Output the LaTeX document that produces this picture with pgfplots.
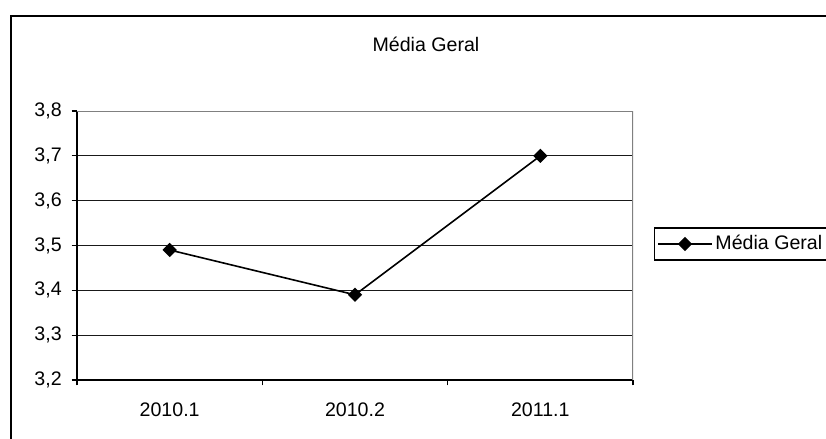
\documentclass[border=0pt]{standalone}
\usepackage{fontspec}
\setmainfont{Liberation Sans}
\usepackage{pgfplots}
\pgfplotsset{compat=1.18}

\pgfplotstableread{
x y
0 3.49
1 3.39
2 3.70
}\mediadata

\begin{document}
\fontsize{14.7}{17.6}\selectfont
\begin{tikzpicture}[x=1pt,y=1pt]
  \useasboundingbox (0,0) rectangle (619.5,329.25);
  \clip (0,0) rectangle (619.5,329.25);
  % frame of the chart area (left and top edges)
  \draw[line width=1pt] (8.25,0) -- (8.25,317.25) -- (630,317.25);
  % title
  \node[anchor=base] at (319.5,290.5) {Média Geral};
  \begin{axis}[
    at={(57.75pt,44.25pt)}, anchor=south west,
    scale only axis,
    width=417pt, height=201.75pt,
    xmin=-0.5, xmax=2.5,
    ymin=3.2, ymax=3.8,
    ytick={3.2,3.3,...,3.8},
    xtick={0,1,2},
    xticklabels={2010.1,2010.2,2011.1},
    minor xtick={-0.5,0.5,1.5,2.5},
    axis x line*=bottom, axis y line*=left,
    axis line style={black, line width=0.9pt, -},
    tick style={black, line width=0.8pt},
    tick align=outside,
    major tick length=4pt,
    minor tick length=4pt,
    xtick style={draw=none},
    minor x tick style={draw=black, line width=0.8pt},
    ymajorgrids,
    major grid style={black!90, line width=0.7pt},
    /pgf/number format/assume math mode=true,
    /pgf/number format/.cd, use comma, fixed, fixed zerofill, precision=1,
    /pgfplots/.cd,
    tick label style={font=\fontsize{14.7}{17.6}\selectfont},
    yticklabel style={anchor=east, inner sep=0pt, xshift=-7.25pt},
    xticklabel style={anchor=base, inner sep=0pt, yshift=-23.5pt},
    legend style={
      at={(1.0378,0.5056)}, anchor=west,
      draw=black, line width=0.8pt,
      font=\fontsize{14.7}{17.6}\selectfont,
      inner xsep=2pt, inner ysep=3.5pt,
      /tikz/every even column/.append style={column sep=0pt},
    },
    legend image code/.code={
      \draw[mark repeat=2, mark phase=2, #1]
        plot coordinates {(0pt,0pt) (20.25pt,0pt) (40.5pt,0pt)};
    },
  ]
    \addplot[black, line width=1.2pt, mark=square*,
      mark size=3.2pt, mark options={rotate=45, solid, fill=black}]
      table[x=x, y=y] {\mediadata};
    \addlegendentry{Média Geral}
    % grey top and right borders of the plot area
    \draw[gray, line width=1.4pt] (rel axis cs:0,1) -- (rel axis cs:1,1) -- (rel axis cs:1,0);
  \end{axis}
\end{tikzpicture}
\end{document}
